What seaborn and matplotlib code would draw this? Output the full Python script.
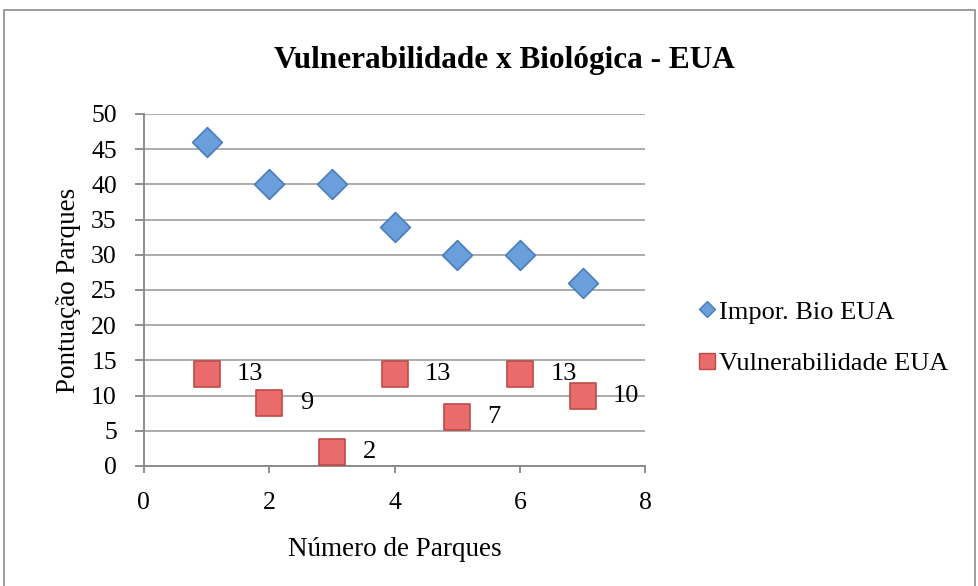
import numpy as np
import pandas as pd
import matplotlib
matplotlib.use("Agg")
import matplotlib.pyplot as plt
import seaborn as sns
from matplotlib.lines import Line2D
from matplotlib.patches import Rectangle

# Data
PARQUES = [1, 2, 3, 4, 5, 6, 7]
IMPOR_BIO = [46, 40, 40, 34, 30, 30, 26]
VULNERAB = [13, 9, 2, 13, 7, 13, 10]
SERIES_NAMES = ["Impor. Bio EUA", "Vulnerabilidade EUA"]

BLUE_FACE = "#6b9fdc"
BLUE_EDGE = "#4a7ebb"
RED_FACE = "#e96b6b"
RED_EDGE = "#be4b48"
GRID = "#a6a6a6"

sns.set_theme(style="white")
plt.rcParams["font.family"] = ["Liberation Serif", "DejaVu Serif"]
plt.rcParams["text.color"] = "black"
plt.rcParams["axes.labelcolor"] = "black"

df = pd.DataFrame({"x": PARQUES, "bio": IMPOR_BIO, "vul": VULNERAB})

fig = plt.figure(figsize=(9.79, 5.86), dpi=100)
ax = fig.add_axes([0.147, 0.2048, 0.512, 0.6007])

sns.scatterplot(data=df, x="x", y="bio", marker="D", s=230, color=BLUE_FACE,
                edgecolor=BLUE_EDGE, linewidth=1.2, ax=ax, zorder=3)
sns.scatterplot(data=df, x="x", y="vul", marker="s", s=340, color=RED_FACE,
                edgecolor=RED_EDGE, linewidth=1.2, ax=ax, zorder=3)

for xv, yv in zip(PARQUES, VULNERAB):
    ax.annotate(str(yv), (xv, yv), xytext=(22, 0), textcoords="offset points",
                ha="left", va="center", fontsize=19, color="black", zorder=4)

ax.set_xlim(0, 8)
ax.set_ylim(0, 50)
ax.set_xticks([0, 2, 4, 6, 8])
ax.set_yticks(np.arange(0, 51, 5))
ax.yaxis.grid(True, color=GRID, linewidth=1.3)
ax.set_axisbelow(True)
for side in ["top", "right"]:
    ax.spines[side].set_visible(False)
for side in ["left", "bottom"]:
    ax.spines[side].set_color("#868686")
    ax.spines[side].set_linewidth(1.3)
ax.tick_params(axis="both", which="major", labelsize=18.5, colors="#868686",
               labelcolor="black", direction="out", width=1.3,
               left=True, bottom=True)
ax.tick_params(axis="x", length=5, pad=14)
ax.tick_params(axis="y", length=6.5, pad=13)

ax.set_xlabel("Número de Parques", fontsize=19.5, labelpad=16)
ax.set_ylabel("Pontuação Parques", fontsize=19.5, labelpad=7)

fig.text(0.515, 0.897, "Vulnerabilidade x Biológica - EUA", ha="center", va="center",
         fontsize=22.5, fontweight="bold", color="black")

handles = [
    Line2D([], [], marker="D", linestyle="none", markersize=8.5,
           markerfacecolor=BLUE_FACE, markeredgecolor=BLUE_EDGE, label=SERIES_NAMES[0]),
    Line2D([], [], marker="s", linestyle="none", markersize=11.5,
           markerfacecolor=RED_FACE, markeredgecolor=RED_EDGE, label=SERIES_NAMES[1]),
]
fig.legend(handles=handles, loc="center left", bbox_to_anchor=(0.686, 0.424),
           frameon=False, fontsize=19, handletextpad=0.0, labelspacing=1.06,
           handlelength=0.9)

fig.patches.append(Rectangle((0.004, -0.02), 0.992, 1.003, transform=fig.transFigure,
                             fill=False, edgecolor="#8c8c8c", linewidth=1.2))

fig.savefig("out.png", dpi=100)
